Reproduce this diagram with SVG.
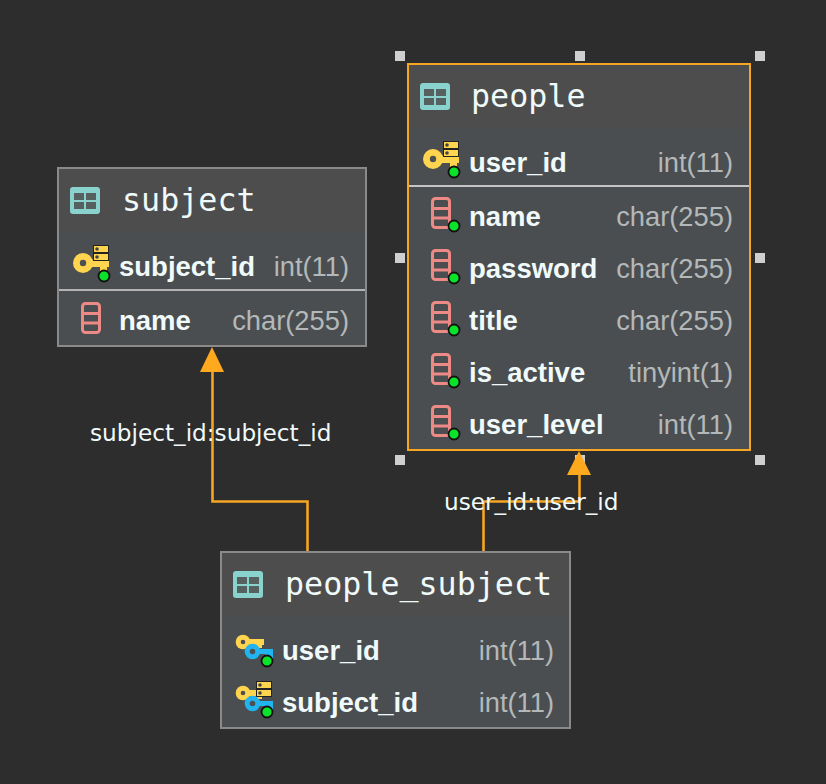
<svg xmlns="http://www.w3.org/2000/svg" width="826" height="784" viewBox="0 0 826 784">
<style>
.title{font:31.700px "DejaVu Sans Mono",monospace;fill:#f0fafa}
.col{font:bold 27.500px "Liberation Sans",Arial,sans-serif;fill:#f0fafa}
.type{font:27.300px "Liberation Sans",Arial,sans-serif;fill:#b4b8b8;text-anchor:end}
.lbl{font:23.200px "DejaVu Sans",sans-serif;fill:#f0fafa}
.hd{fill:#4d4d4d}.bd{fill:#4a4e51}
.h{fill:#cfcfcf}
.conn{fill:none;stroke:#f5a623;stroke-width:2.600}
</style>
<defs>
<g id="tbl"><rect width="30" height="27" rx="3" fill="#8ad2cd"/><path d="M4 6h10v7h-10zM16 6h10v7h-10zM4 15h10v7h-10zM16 15h10v7h-10z" fill="#55605f"/></g>
<g id="dot"><circle r="5.500" fill="#0be32b" stroke="#111" stroke-width="1.800"/></g>
<g id="keyL"><circle cx="10" cy="10" r="10" fill="#ffd54f"/><circle cx="10" cy="10" r="3.200" fill="#4c5053"/><path d="M17 6.500h19v7.500h-2v5h-7v-5h-10z" fill="#ffd54f"/></g>
<g id="keyS"><circle cx="7" cy="7" r="7.300" fill="#ffd54f"/><circle cx="7" cy="7" r="2.300" fill="#4c5053"/><path d="M12 4h16v6h-2v3h-5v-3h-9z" fill="#ffd54f"/></g>
<g id="keyB"><circle cx="7.500" cy="7.500" r="7.800" fill="#22b4f0"/><circle cx="7.500" cy="7.500" r="2.800" fill="#4c5053"/><path d="M13 5h15v10h-8v-5h-7z" fill="#22b4f0"/></g>
<g id="srv"><rect x=".5" y=".5" width="15" height="7" fill="#ffd54f" stroke="#222"/><rect x=".5" y="8.500" width="15" height="7" fill="#ffd54f" stroke="#222"/><circle cx="4" cy="4" r="1.800" fill="#444"/><circle cx="4" cy="12" r="1.800" fill="#444"/></g>
<g id="colI"><rect x="1.500" y="1.500" width="17" height="29" rx="3" fill="none" stroke="#ee8a85" stroke-width="3"/><path d="M2 11.500h16M2 21h16" stroke="#ee8a85" stroke-width="3"/></g>
</defs>
<rect width="826" height="784" fill="#2d2d2d"/>
<g id="subject">
<rect x="58" y="168" width="308" height="178" class="bd"/>
<rect x="58" y="168" width="308" height="65" class="hd"/>
<path d="M58 290H366" stroke="#b4b4b4" stroke-width="2"/>
<rect x="58" y="168" width="308" height="178" fill="none" stroke="#8a8a8a" stroke-width="2"/>
<use href="#tbl" x="70" y="187"/>
<text class="title" x="122" y="211">subject</text>
<use href="#keyL" x="73" y="253"/><use href="#srv" x="93" y="245"/><use href="#dot" x="104" y="276"/>
<text class="col" x="119" y="275.500">subject_id</text><text class="type" x="349" y="275.500">int(11)</text>
<use href="#colI" x="81" y="302"/>
<text class="col" x="119" y="329.500">name</text><text class="type" x="349" y="329.500">char(255)</text>
</g>
<g id="people">
<rect x="408" y="64" width="342" height="386" class="bd"/>
<rect x="408" y="64" width="342" height="65" class="hd"/>
<path d="M408 186H750" stroke="#c4c4c4" stroke-width="2"/>
<rect x="408" y="64" width="342" height="386" fill="none" stroke="#f5a623" stroke-width="2"/>
<use href="#tbl" x="420" y="83"/>
<text class="title" x="471" y="107">people</text>
<use href="#keyL" x="423" y="149"/><use href="#srv" x="443" y="141"/><use href="#dot" x="454" y="172"/>
<text class="col" x="469" y="171.500">user_id</text><text class="type" x="733" y="171.500">int(11)</text>
<use href="#colI" x="431" y="197"/><use href="#dot" x="454" y="226"/>
<text class="col" x="469" y="225.500">name</text><text class="type" x="733" y="225.500">char(255)</text>
<use href="#colI" x="431" y="249"/><use href="#dot" x="454" y="278"/>
<text class="col" x="469" y="277.500">password</text><text class="type" x="733" y="277.500">char(255)</text>
<use href="#colI" x="431" y="301"/><use href="#dot" x="454" y="330"/>
<text class="col" x="469" y="329.500">title</text><text class="type" x="733" y="329.500">char(255)</text>
<use href="#colI" x="431" y="353"/><use href="#dot" x="454" y="382"/>
<text class="col" x="469" y="381.500">is_active</text><text class="type" x="733" y="381.500">tinyint(1)</text>
<use href="#colI" x="431" y="405"/><use href="#dot" x="454" y="434"/>
<text class="col" x="469" y="433.500">user_level</text><text class="type" x="733" y="433.500">int(11)</text>
</g>
<g id="handles">
<rect class="h" x="395" y="51" width="10" height="10"/><rect class="h" x="575" y="51" width="10" height="10"/><rect class="h" x="755" y="51" width="10" height="10"/>
<rect class="h" x="395" y="253" width="10" height="10"/><rect class="h" x="755" y="253" width="10" height="10"/>
<rect class="h" x="395" y="455" width="10" height="10"/><rect class="h" x="575" y="455" width="10" height="10"/><rect class="h" x="755" y="455" width="10" height="10"/>
</g>
<g id="people_subject">
<rect x="221" y="552" width="349" height="176" class="bd"/>
<rect x="221" y="552" width="349" height="65" class="hd"/>
<rect x="221" y="552" width="349" height="176" fill="none" stroke="#8a8a8a" stroke-width="2"/>
<use href="#tbl" x="233" y="571"/>
<text class="title" x="285" y="595">people_subject</text>
<use href="#keyS" x="236" y="635"/><use href="#keyB" x="245" y="644"/><use href="#dot" x="267" y="661"/>
<text class="col" x="282" y="659.500">user_id</text><text class="type" x="554" y="659.500">int(11)</text>
<use href="#keyS" x="236" y="686"/><use href="#srv" x="256" y="681"/><use href="#keyB" x="245" y="696"/><use href="#dot" x="267" y="712"/>
<text class="col" x="282" y="711.500">subject_id</text><text class="type" x="554" y="711.500">int(11)</text>
</g>
<g id="connectors">
<path class="conn" d="M307.500 551V501.500H212.500V370"/>
<path d="M212 347l12 25h-24z" fill="#ffa91e"/>
<path class="conn" d="M483.500 551V501.500H579.500V474"/>
<path d="M579 451l12 24h-24z" fill="#ffa91e"/>
</g>
<g id="labels">
<text class="lbl" x="90" y="441">subject_id:subject_id</text>
<text class="lbl" x="444" y="510">user_id:user_id</text>
</g>
</svg>
